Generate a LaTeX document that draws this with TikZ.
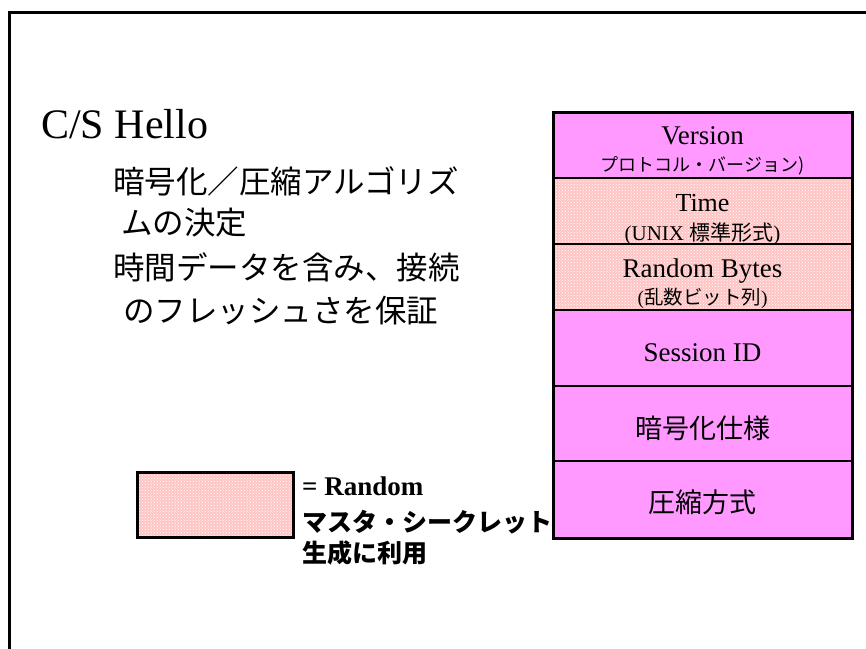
\documentclass[tikz,border=0pt]{standalone}
\usepackage{fontspec}
\setmainfont{Liberation Serif}
\newfontfamily\jp{Noto Sans CJK JP}
\usetikzlibrary{patterns}
\definecolor{mag}{HTML}{FF99FF}
\definecolor{rpink}{HTML}{FFC4C4}
\begin{document}
\begin{tikzpicture}[x=1pt,y=-1pt,
  txt/.style={inner sep=0,anchor=base},
  ltxt/.style={inner sep=0,anchor=base west},
  randfill/.style={fill=rpink},
  randdots/.style={pattern=crosshatch dots,pattern color=white},
  sep/.style={line width=2.5pt},
  outer/.style={line width=3pt}]
\useasboundingbox (0,0) rectangle (866,648);
% frame
\draw[outer] (9,650) -- (9,12) -- (868,12);
% right column
\fill[mag] (553,112) rectangle (852,178);
\fill[randfill] (553,178) rectangle (852,310);
\fill[randdots] (553,178) rectangle (852,310);
\fill[mag] (553,310) rectangle (852,538);
\foreach \yy in {178,244,310,386,461} \draw[sep] (553,\yy) -- (852,\yy);
\draw[outer] (553,112) rectangle (852,538);
% column texts
\node[txt,font=\fontsize{27}{27}\selectfont] (ver) at (702.5,144) {Version};
\node[txt,font=\jp\fontsize{18}{18}\selectfont] (verj) at (702.5,171) {プロトコル・バージョン)};
\node[txt,font=\fontsize{26}{26}\selectfont] (time) at (702.5,211) {Time};
\node[txt,font=\fontsize{21}{21}\selectfont] (timej) at (702.5,240) {(UNIX {\jp 標準形式})};
\node[txt,font=\fontsize{27}{27}\selectfont] (rnd) at (702.5,277) {Random Bytes};
\node[txt,font=\fontsize{19.5}{19.5}\selectfont] (rndj) at (702.5,304.5) {({\jp 乱数ビット列})};
\node[txt,font=\fontsize{27}{27}\selectfont] (sid) at (702.5,361) {Session ID};
\node[txt,font=\jp\fontsize{27}{27}\selectfont] (ciph) at (702.5,438) {暗号化仕様};
\node[txt,font=\jp\fontsize{27}{27}\selectfont] (comp) at (702.5,512) {圧縮方式};
% left texts
\node[ltxt,font=\fontsize{42}{42}\selectfont] (title) at (41,138) {C/S Hello};
\node[ltxt,font=\jp\fontsize{31.5}{31.5}\selectfont] (l1) at (113,193) {暗号化／圧縮アルゴリズ};
\node[ltxt,font=\jp\fontsize{31.5}{31.5}\selectfont] (l2) at (121,234) {ムの決定};
\node[ltxt,font=\jp\fontsize{31.5}{31.5}\selectfont] (l3) at (113,279) {時間データを含み、接続};
\node[ltxt,font=\jp\fontsize{31.5}{31.5}\selectfont] (l4) at (123,322) {のフレッシュさを保証};
% legend
\fill[randfill] (137,472) rectangle (293,537);
\fill[randdots] (137,472) rectangle (293,537);
\draw[outer] (137,472) rectangle (293,537);
\node[ltxt,font=\bfseries\fontsize{27}{27}\selectfont] (leg1) at (302,495) {= Random};
\node[ltxt,font=\jp\bfseries\fontsize{25}{25}\selectfont] (leg2) at (302,531.5) {マスタ・シークレット};
\node[ltxt,font=\jp\bfseries\fontsize{25}{25}\selectfont] (leg3) at (302,562) {生成に利用};
\end{tikzpicture}
\end{document}
